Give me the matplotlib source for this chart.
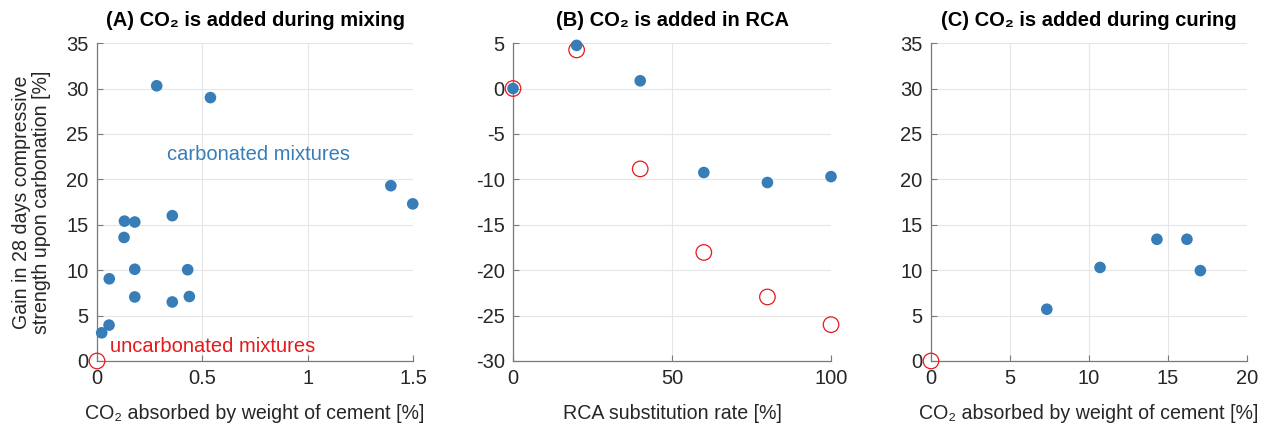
import matplotlib
matplotlib.use("Agg")
import matplotlib.pyplot as plt

plt.rcParams['font.family'] = ['Liberation Sans', 'DejaVu Sans']
plt.rcParams['axes.unicode_minus'] = False

# Panel A: CO2 added during mixing
mix_co2 = [0.283, 0.538, 1.394, 1.498, 0.357, 0.130, 0.179, 0.128, 0.058,
           0.179, 0.430, 0.179, 0.357, 0.438, 0.057, 0.022]
mix_gain = [30.3, 29.0, 19.3, 17.3, 16.0, 15.4, 15.3, 13.6, 9.05,
            10.1, 10.05, 7.05, 6.5, 7.1, 3.95, 3.1]
mix_ref_co2 = [0.0]
mix_ref_gain = [0.0]

# Panel B: CO2 added in RCA
rca_rate = [0, 20, 40, 60, 80, 100]
rca_carb_gain = [0.0, 4.75, 0.85, -9.25, -10.35, -9.7]
rca_uncarb_gain = [0.0, 4.25, -8.85, -18.05, -22.95, -26.0]

# Panel C: CO2 added during curing
cure_co2 = [7.33, 10.7, 14.3, 16.2, 17.05]
cure_gain = [5.7, 10.3, 13.4, 13.4, 9.95]
cure_ref_co2 = [0.0]
cure_ref_gain = [0.0]

BLUE = '#377eb8'
RED = '#e41a1c'
TXT = '#262626'
FS = 14.5
LFS = 14.1

fig = plt.figure(figsize=(12.67, 4.25), dpi=100)
axA = fig.add_axes([0.0766, 0.1506, 0.2495, 0.748])
axB = fig.add_axes([0.4049, 0.1506, 0.2510, 0.748])
axC = fig.add_axes([0.7348, 0.1506, 0.2494, 0.748])


def style(ax):
    for s in ('top', 'right'):
        ax.spines[s].set_visible(False)
    for s in ('left', 'bottom'):
        ax.spines[s].set_color('#7a7a7a')
        ax.spines[s].set_linewidth(0.9)
    ax.grid(True, color='#e6e6e6', linewidth=0.8)
    ax.set_axisbelow(True)
    ax.tick_params(direction='in', length=4, width=0.8, color='#7a7a7a',
                   labelsize=FS, labelcolor=TXT, pad=6)


def dots(ax, x, y):
    ax.scatter(x, y, s=70, color=BLUE, edgecolors='none', zorder=4, clip_on=False)


def rings(ax, x, y):
    ax.scatter(x, y, s=125, facecolors='none', edgecolors=RED, linewidths=0.9,
               zorder=3, clip_on=False)


# (A)
style(axA)
rings(axA, mix_ref_co2, mix_ref_gain)
dots(axA, mix_co2, mix_gain)
axA.set_xlim(0, 1.5)
axA.set_ylim(0, 35)
axA.set_xticks([0, 0.5, 1, 1.5])
axA.set_xticklabels(['0', '0.5', '1', '1.5'])
axA.set_yticks(range(0, 36, 5))
axA.set_title('(A) CO₂ is added during mixing', fontsize=FS, fontweight='bold',
              color='black', pad=12)
axA.set_xlabel('CO₂ absorbed by weight of cement [%]', fontsize=LFS, color=TXT, labelpad=11)
axA.set_ylabel('Gain in 28 days compressive\nstrength upon carbonation [%]',
               fontsize=LFS, color=TXT, labelpad=11, linespacing=1.05)
axA.text(0.33, 22.7, 'carbonated mixtures', color=BLUE, fontsize=FS, va='center')
axA.text(0.062, 1.6, 'uncarbonated mixtures', color=RED, fontsize=FS, va='center')

# (B)
style(axB)
rings(axB, rca_rate, rca_uncarb_gain)
dots(axB, rca_rate, rca_carb_gain)
axB.set_xlim(0, 100)
axB.set_ylim(-30, 5)
axB.set_xticks([0, 50, 100])
axB.set_yticks(range(-30, 6, 5))
axB.set_title('(B) CO₂ is added in RCA', fontsize=FS, fontweight='bold',
              color='black', pad=12)
axB.set_xlabel('RCA substitution rate [%]', fontsize=LFS, color=TXT, labelpad=11)

# (C)
style(axC)
rings(axC, cure_ref_co2, cure_ref_gain)
dots(axC, cure_co2, cure_gain)
axC.set_xlim(0, 20)
axC.set_ylim(0, 35)
axC.set_xticks(range(0, 21, 5))
axC.set_yticks(range(0, 36, 5))
axC.set_title('(C) CO₂ is added during curing', fontsize=FS, fontweight='bold',
              color='black', pad=12)
axC.set_xlabel('CO₂ absorbed by weight of cement [%]', fontsize=LFS, color=TXT, labelpad=11)

fig.savefig('out.png', dpi=100, facecolor='white')
